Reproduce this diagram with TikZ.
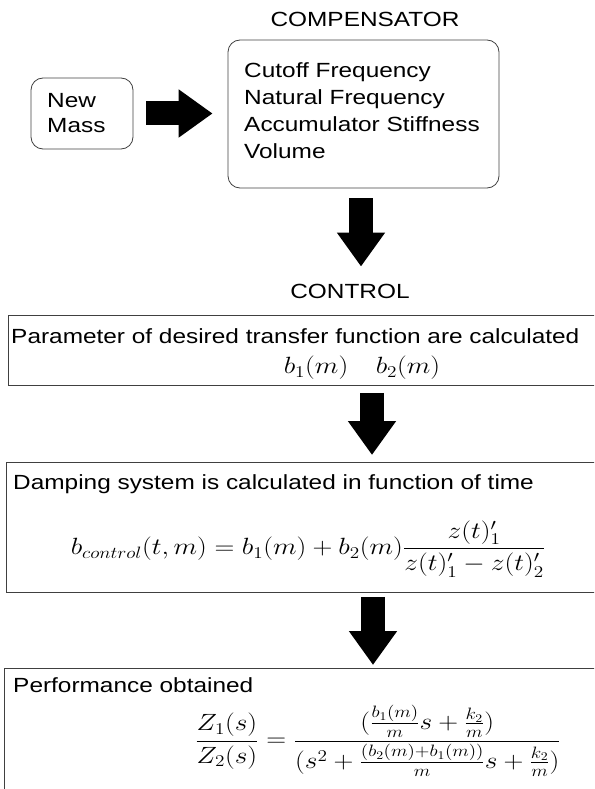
\RequirePackage{fix-cm}
\documentclass[tikz,border=0pt]{standalone}
\usepackage{amsmath}
\usepackage{fontspec}
\newfontfamily\arialfont{Liberation Sans}
\usetikzlibrary{arrows.meta,positioning}
\tikzset{
  rbox/.style={draw=black!75, line width=0.8pt, rounded corners=12pt},
  sbox/.style={draw=black!75, line width=0.9pt, inner sep=0pt, anchor=north west},
  lbl/.style={font=\arialfont\fontsize{20.5}{25}\selectfont, inner sep=0pt, xscale=1.19},
  mth/.style={font=\fontsize{23.5}{28}\selectfont, inner sep=0pt, xscale=1.17},
  blockarr/.style={draw=black, line width=24pt, -{Triangle[length=34pt,width=46pt]}},
}

\begin{document}
\begin{tikzpicture}[x=1pt,y=-1pt]
  \useasboundingbox (0,0) rectangle (594,789);
  \clip (0,0) rectangle (594,789);
  % top row
  \node[rbox, minimum width=102pt, minimum height=71pt] (newmass) at (82,113.5) {};
  \node[lbl, align=left, anchor=north west] (newmasstxt) at (47,93.5) {New\\Mass};
  \node[lbl] (comptitle) at (365,19) {COMPENSATOR};
  \node[rbox, minimum width=271pt, minimum height=148pt] (comp) at (363.5,114) {};
  \node[lbl, align=left, anchor=north west, font=\arialfont\fontsize{20.5}{27}\selectfont] (compparams) at (244,62.5)
    {Cutoff Frequency\\Natural Frequency\\Accumulator Stiffness\\Volume};
  \draw[blockarr, shorten <=13pt, shorten >=15pt] (newmass.east) -- (newmass.east -| comp.west);
  % control
  \node[lbl] (control) at (350,291) {CONTROL};
  \coordinate (a1) at (361,0);
  \draw[blockarr, shorten <=10pt, shorten >=17pt] (comp.south -| a1) -- (control.north -| a1);
  % parameters
  \node[sbox, minimum width=600pt, minimum height=70pt] (params) at (8,315) {};
  \node[lbl, anchor=base west] (paramstxt) at (11,343) {Parameter of desired transfer function are calculated};
  \node[mth] (paramsmath) at (362,368) {$b_1(m)\quad b_2(m)$};
  % damping
  \node[sbox, minimum width=600pt, minimum height=130pt] (damping) at (6,462) {};
  \node[lbl, anchor=base west] (dampingtxt) at (13,489) {Damping system is calculated in function of time};
  \node[mth] (dampingmath) at (308,549)
    {$\displaystyle b_{control}(t,m)=b_1(m)+b_2(m)\frac{z(t)'_1}{z(t)'_1-z(t)'_2}$};
  \coordinate (a2) at (372,0);
  \draw[blockarr, shorten <=7pt, shorten >=7pt] (params.south -| a2) -- (damping.north -| a2);
  % performance
  \node[sbox, minimum width=600pt, minimum height=200pt] (perf) at (4,668) {};
  \node[lbl, anchor=base west] (perftxt) at (13,692) {Performance obtained};
  \node[mth] (perfmath) at (378,741)
    {$\displaystyle \frac{Z_1(s)}{Z_2(s)}=\frac{(\frac{b_1(m)}{m}s+\frac{k_2}{m})}{(s^2+\frac{(b_2(m)+b_1(m))}{m}s+\frac{k_2}{m})}$};
  \coordinate (a3) at (373,0);
  \draw[blockarr, shorten <=4pt, shorten >=3pt] (damping.south -| a3) -- (perf.north -| a3);
\end{tikzpicture}
\end{document}
